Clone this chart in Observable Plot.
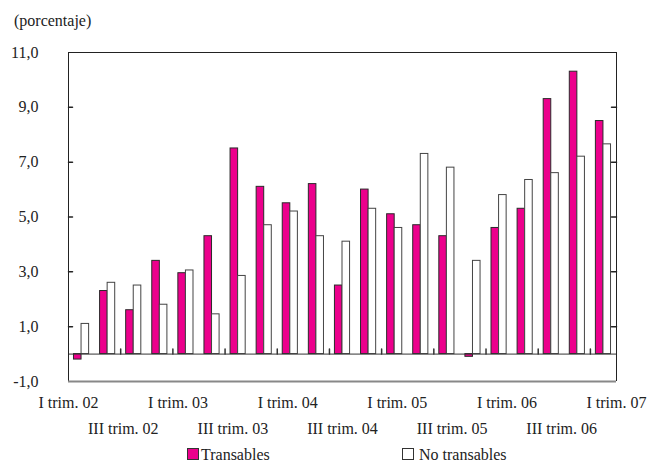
<!DOCTYPE html>
<html><head><meta charset="utf-8">
<script src="https://cdn.jsdelivr.net/npm/d3@7"></script>
<script src="https://cdn.jsdelivr.net/npm/@observablehq/plot@0.6"></script>
<style>
body{margin:0;background:#fff;font-family:"Liberation Serif",serif;width:649px;height:462px;overflow:hidden;color:#222}
#title{height:34px;box-sizing:border-box;padding:11px 0 0 14px;font-size:16px;line-height:20px}
#chart svg{display:block}
#legend{position:relative;height:22px;font-size:16px;line-height:20px}
.sw{position:absolute;top:8px;width:10px;height:10px;border:1px solid #333}
.lt{position:absolute;top:5px;white-space:nowrap}
</style></head><body>
<div id="title">(porcentaje)</div>
<div id="chart"></div>
<div id="legend"></div>
<script>
const quarters = ["I trim. 02","II trim. 02","III trim. 02","IV trim. 02",
  "I trim. 03","II trim. 03","III trim. 03","IV trim. 03",
  "I trim. 04","II trim. 04","III trim. 04","IV trim. 04",
  "I trim. 05","II trim. 05","III trim. 05","IV trim. 05",
  "I trim. 06","II trim. 06","III trim. 06","IV trim. 06","I trim. 07"];
const transables   = [-0.2,2.3,1.6,3.4,2.95,4.3,7.5,6.1,5.5,6.2,2.5,6.0,5.1,4.7,4.3,-0.1,4.6,5.3,9.3,10.3,8.5];
const noTransables = [1.1,2.6,2.5,1.8,3.05,1.45,2.85,4.7,5.2,4.3,4.1,5.3,4.6,7.3,6.8,3.4,5.8,6.35,6.6,7.2,7.65];
const seriesNames = ["Transables","No transables"];
const seriesColors = ["#EC008C","#FFFFFF"];
const yTicks = [-1,1,3,5,7,9,11];
const xLabelsRow1 = ["I trim. 02","I trim. 03","I trim. 04","I trim. 05","I trim. 06","I trim. 07"];
const xLabelsRow2 = ["III trim. 02","III trim. 03","III trim. 04","III trim. 05","III trim. 06"];
const xBoundaryTicks = [2,4,6,8,10,12,14,16,18,20];

const n = quarters.length;
const labelStep = n / (xLabelsRow1.length + xLabelsRow2.length - 1);
const row1Pos = xLabelsRow1.map((_, j) => 2 * j * labelStep);
const row2Pos = xLabelsRow2.map((_, j) => (2 * j + 1) * labelStep);

const data = quarters.map((q, i) => ({i, q, t: transables[i], nt: noTransables[i]}));
const fmt = d => d3.format(".1f")(d).replace(".", ",").replace("\u2212", "-");
const line = {draw(ctx, l) { ctx.moveTo(0, 0); ctx.lineTo(0, -l); }};

const chart = Plot.plot({
  width: 649, height: 406,
  marginLeft: 68, marginRight: 33, marginTop: 18, marginBottom: 59,
  style: {fontFamily: "'Liberation Serif', serif", fontSize: "16px", color: "#222", background: "#fff"},
  x: {type: "linear", domain: [0, n], axis: null},
  y: {domain: [-1, 11], axis: null},
  marks: [
    Plot.rect(data, {x1: d => d.i + 0.21, x2: d => d.i + 0.50, y1: 0, y2: "t", fill: seriesColors[0], stroke: "#2a2a2a", strokeWidth: 1}),
    Plot.rect(data, {x1: d => d.i + 0.50, x2: d => d.i + 0.79, y1: 0, y2: "nt", fill: seriesColors[1], stroke: "#444", strokeWidth: 1}),
    Plot.ruleY([0], {stroke: "#333", strokeWidth: 1}),
    Plot.vector(xBoundaryTicks, {x: d => d, y: 0, length: 5, rotate: 0, anchor: "start", shape: line, stroke: "#333"}),
    Plot.vector(yTicks.slice(1, -1), {x: 0, y: d => d, length: 4, rotate: 90, anchor: "start", shape: line, stroke: "#222"}),
    Plot.vector(yTicks.slice(1, -1), {x: n, y: d => d, length: 5, rotate: -90, anchor: "start", shape: line, stroke: "#222"}),
    Plot.ruleY([11], {stroke: "#222", strokeWidth: 1}),
    Plot.ruleX([0, n], {stroke: "#222", strokeWidth: 1}),
    Plot.ruleY([-1], {stroke: "#888", strokeWidth: 2}),
    Plot.axisY(yTicks, {anchor: "left", tickSize: 0, tickPadding: 30, tickFormat: fmt, fontSize: 16}),
    Plot.axisX(row1Pos, {anchor: "bottom", tickSize: 0, tickPadding: 15, tickFormat: (d, i) => xLabelsRow1[i], fontSize: 16}),
    Plot.axisX(row2Pos, {anchor: "bottom", tickSize: 0, tickPadding: 41, tickFormat: (d, i) => xLabelsRow2[i], fontSize: 16})
  ]
});
document.getElementById("chart").appendChild(chart);

const legend = document.getElementById("legend");
const legendPos = [[187, 201], [402, 419]];
seriesNames.forEach((name, k) => {
  const sw = document.createElement("div");
  sw.className = "sw"; sw.style.left = legendPos[k][0] + "px"; sw.style.background = seriesColors[k];
  legend.appendChild(sw);
  const t = document.createElement("div");
  t.className = "lt"; t.style.left = legendPos[k][1] + "px"; t.textContent = name;
  legend.appendChild(t);
});
</script>
</body></html>
